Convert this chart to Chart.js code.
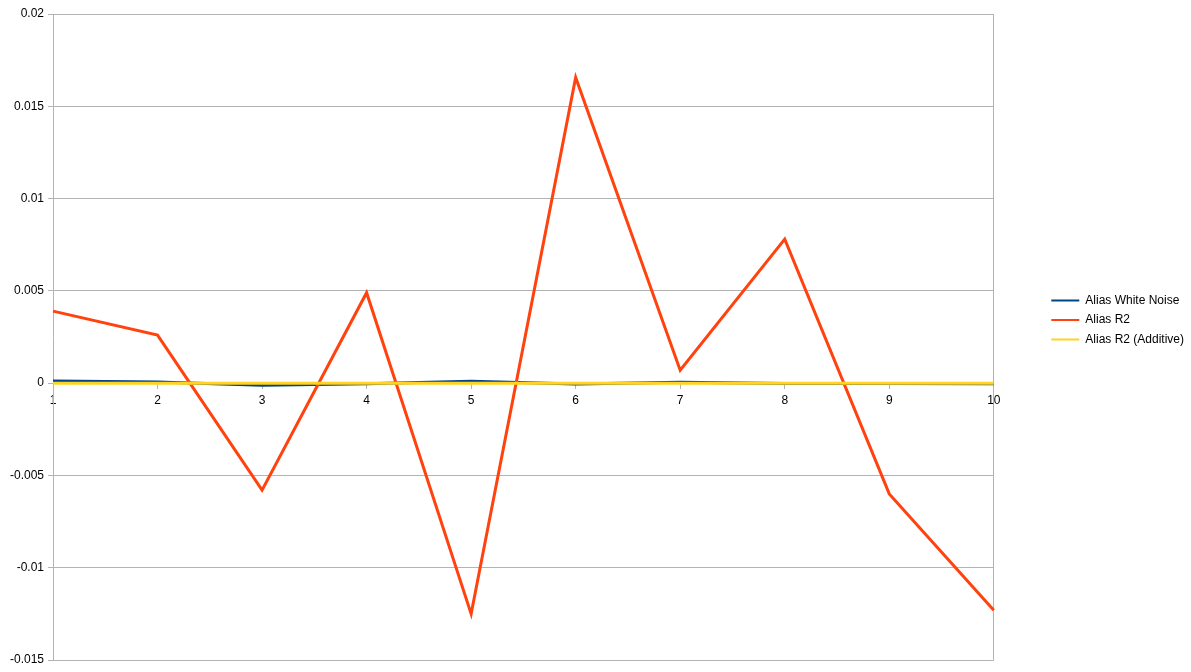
<!DOCTYPE html>
<html>
<head>
<meta charset="utf-8">
<script src="https://cdn.jsdelivr.net/npm/chart.js@4/dist/chart.umd.min.js"></script>
<style>
  html, body { margin: 0; padding: 0; background: #fff; }
  #wrap { width: 1191px; height: 672px; }
</style>
</head>
<body>
<div id="wrap"><canvas id="mycanvas" width="1191" height="672"></canvas></div>
<script>
var categories = ["1", "2", "3", "4", "5", "6", "7", "8", "9", "10"];
var whiteNoise = [0.00012, 0.00006, -0.00012, -0.00003, 0.0001, -0.00005, 0.00005, -0.00002, -0.00002, -0.00003];
var aliasR2 = [0.0039, 0.0026, -0.0058, 0.0049, -0.0125, 0.01656, 0.0007, 0.0078, -0.0060, -0.0123];
var additive = [0, 0, 0, 0, 0, 0, 0, 0, 0, 0];
var yTicks = [0.02, 0.015, 0.01, 0.005, 0, -0.005, -0.01, -0.015];

Chart.defaults.font.family = "'Liberation Sans', Arial, sans-serif";
Chart.defaults.font.size = 12;
Chart.defaults.color = "#000";

var gridGrey = "#b3b3b3";

function line(label, data, color, order) {
  return {
    label: label,
    data: data,
    borderColor: color,
    backgroundColor: color,
    borderWidth: 3,
    pointRadius: 0,
    pointHoverRadius: 0,
    tension: 0,
    fill: false,
    order: order
  };
}

// nudge the legend box to where the original sits
var legendShift = {
  id: "legendShift",
  afterLayout: function(chart) {
    var lg = chart.legend;
    if (!lg) return;
    lg.left += 7; lg.right += 7;
    lg.top -= 17; lg.bottom -= 17;
  }
};

var ctx = document.getElementById("mycanvas");
var LineGraph = new Chart(ctx, {
  type: "line",
  data: {
    labels: categories,
    datasets: [
      line("Alias White Noise", whiteNoise, "#004586", 2),
      line("Alias R2", aliasR2, "#ff420e", 1),
      line("Alias R2 (Additive)", additive, "#ffd320", 0)
    ]
  },
  plugins: [legendShift],
  options: {
    responsive: false,
    animation: false,
    layout: { padding: { left: 0, right: 4, top: 14, bottom: 12 } },
    plugins: {
      tooltip: { enabled: false },
      legend: {
        position: "right",
        labels: {
          boxWidth: 28,
          boxHeight: 2,
          padding: 7.5,
          font: { size: 12 },
          sort: function(a, b) { return a.datasetIndex - b.datasetIndex; },
          generateLabels: function(chart) {
            var items = Chart.defaults.plugins.legend.labels.generateLabels(chart);
            items.forEach(function(it) { it.lineWidth = 0; });
            return items;
          }
        }
      }
    },
    scales: {
      x: {
        type: "category",
        offset: false,
        position: { y: 0 },
        grid: {
          color: function(c) { return c.index === categories.length - 1 ? gridGrey : "rgba(0,0,0,0)"; },
          tickColor: gridGrey,
          tickLength: 5,
          drawTicks: true
        },
        border: { color: gridGrey },
        ticks: { padding: 5, maxRotation: 0, autoSkip: false }
      },
      y: {
        min: -0.015,
        max: 0.02,
        afterFit: function(s) { s.width = 53; },
        afterBuildTicks: function(s) { s.ticks = yTicks.map(function(v) { return { value: v }; }); },
        grid: { color: gridGrey, tickLength: 5, tickColor: gridGrey },
        border: { color: gridGrey },
        ticks: {
          padding: 4,
          callback: function(v) { return String(Math.round(v * 1000) / 1000); }
        }
      },
      spacer: {
        type: "linear",
        position: "right",
        display: true,
        afterFit: function(s) { s.width = 43; },
        grid: { display: false },
        border: { display: false },
        ticks: { display: false }
      }
    }
  }
});
</script>
</body>
</html>
